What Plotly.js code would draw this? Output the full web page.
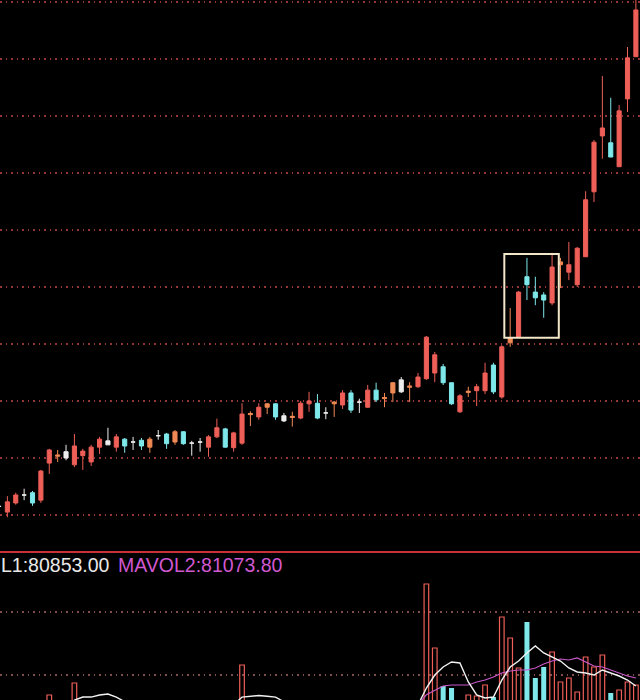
<!DOCTYPE html>
<html>
<head>
<meta charset="utf-8">
<script src="https://cdn.plot.ly/plotly-3.0.1.min.js"></script>
<style>html,body{margin:0;padding:0;background:#000;}#chart{width:640px;height:700px;}</style>
</head>
<body>
<div id="chart"></div>
<script>
// ---- data (index = trading day) ----
const tone = ['w','r','r','w','c','r','r','o','w','r','r','r','r','w','r','c','w','c','o','w','c','o','c','w','w','r','r','c','r','r','o','r','o','c','w','o','r','r','c','w','o','r','c','w','r','c','o','o','w','o','r','r','r','c','c','r','o','r','r','c','r','o','r','c','c','c','r','o','r','r','r','r','r','c','r','r','r'];
const openP = [10.15,10.05,10.21,10.35,10.39,10.26,10.91,11.03,11.11,10.88,11.04,10.93,11.19,11.23,11.19,11.33,11.28,11.31,11.19,11.39,11.42,11.28,11.46,11.26,11.28,11.19,11.37,11.51,11.18,11.26,11.76,11.72,11.89,11.95,11.65,11.71,11.70,11.95,11.96,11.79,11.95,11.93,12.14,11.98,11.89,12.19,12.04,12.14,12.37,12.24,12.25,12.39,12.49,12.60,12.32,11.81,12.15,12.18,12.18,12.63,12.07,13.02,13.12,14.18,13.91,13.86,13.72,14.39,14.26,14.04,14.53,15.67,16.65,16.53,16.11,17.30,18.04];
const closeP = [10.15,10.23,10.35,10.35,10.21,10.77,11.14,11.05,11.00,11.21,11.12,11.19,11.33,11.30,11.37,11.21,11.28,11.21,11.33,11.39,11.25,11.46,11.25,11.26,11.28,11.37,11.53,11.19,11.44,11.77,11.78,11.89,11.95,11.72,11.74,11.73,11.96,12.00,11.70,11.79,11.98,12.14,11.84,11.98,12.19,12.02,12.06,12.32,12.16,12.26,12.42,13.12,12.81,12.32,11.95,12.09,12.17,12.25,12.49,12.16,12.95,13.11,13.91,14.04,13.81,13.77,14.35,14.44,14.39,14.68,15.53,16.54,16.79,16.28,17.09,18.02,18.86];
const highP = [10.21,10.33,10.39,10.46,10.42,10.79,11.16,11.14,11.23,11.42,11.16,11.23,11.37,11.53,11.42,11.35,11.37,11.35,11.37,11.49,11.44,11.49,11.47,11.30,11.35,11.40,11.69,11.53,11.46,11.96,11.82,11.96,11.96,11.96,11.79,11.81,12.00,12.16,12.12,11.89,12.00,12.19,12.19,12.04,12.28,12.32,12.14,12.33,12.42,12.33,12.49,13.14,12.86,12.65,12.32,12.12,12.25,12.30,12.67,12.67,12.98,13.63,13.93,14.51,14.18,13.91,14.60,14.51,14.79,14.70,15.68,16.58,17.70,17.32,17.19,18.21,19.15];
const lowP = [10.09,9.96,10.18,10.26,10.16,10.21,10.72,10.93,10.96,10.84,10.79,10.86,11.07,11.23,11.11,11.09,11.14,11.14,11.09,11.32,11.16,11.23,11.23,11.04,11.11,11.02,11.35,11.18,11.11,11.23,11.56,11.67,11.77,11.67,11.63,11.55,11.68,11.81,11.68,11.68,11.72,11.86,11.79,11.79,11.88,11.98,11.89,11.98,12.14,11.98,12.23,12.37,12.33,12.28,11.93,11.79,12.07,11.91,12.12,12.12,12.04,12.95,13.11,13.77,13.68,13.46,13.68,13.98,14.12,14.00,14.53,15.49,16.25,16.28,16.11,17.07,18.04];
const volume = [40000,42000,38000,36000,39000,45000,54610,40000,38000,69850,44000,42000,40000,38000,41000,37000,35000,36000,38000,34000,37000,36000,38000,35000,34000,40000,42000,44000,40000,92710,45000,47000,44000,42000,40000,41000,46000,45000,44000,40000,42000,46000,44000,40000,45000,43000,40000,44000,42000,41000,46000,195580,114300,66040,63500,45000,54610,53340,67310,52070,153670,127000,88900,147320,76200,90170,109220,71120,76200,58420,102870,90170,105410,57150,60960,71120,67310];
const mavol1 = [42000,42000,42000,42000,42000,42000,42000,42000,42000,48000,52000,52000,54600,55900,52000,46000,42000,42000,42000,42000,42000,42000,42000,42000,42000,42000,42000,42000,42000,52000,53000,54000,53000,52000,46000,42000,42000,42000,42000,42000,42000,42000,42000,42000,42000,42000,42000,42000,42000,42000,42000,63500,80010,90170,96520,95250,71120,54610,50800,52070,73660,90170,97790,107950,116840,107950,102870,97790,88900,83820,82550,80010,86360,82550,78740,73660,66040];
const mavol2 = [42000,42000,42000,42000,42000,42000,42000,42000,42000,42000,42000,42000,42000,42000,42000,42000,42000,42000,42000,42000,42000,42000,42000,42000,42000,42000,42000,42000,42000,42000,42000,42000,42000,42000,42000,42000,42000,42000,42000,42000,42000,42000,42000,42000,42000,42000,42000,42000,42000,42000,42000,55000,60960,66040,67310,67310,67310,71120,73660,77470,82550,85090,86360,86360,88900,93980,97790,100330,99060,101600,96520,91440,90170,86360,82550,78740,76200];
const labelMa1 = 'L1:80853.00';
const labelMa2 = 'MAVOL2:81073.80';

// ---- styles ----
const toneColor = {r:'#ee5f58', c:'#7ee8ea', w:'#eeeeee', o:'#f08a55'};
const idx = openP.map((_, i) => i);
const traces = [];
Object.keys(toneColor).forEach(k => {
  const sel = idx.filter(i => tone[i] === k);
  const col = toneColor[k];
  traces.push({
    type:'candlestick', xaxis:'x', yaxis:'y',
    x: sel, open: sel.map(i=>openP[i]), high: sel.map(i=>highP[i]),
    low: sel.map(i=>lowP[i]), close: sel.map(i=>closeP[i]),
    increasing:{line:{color:col, width:1}, fillcolor:col},
    decreasing:{line:{color:col, width:1}, fillcolor:col},
    whiskerwidth:0, hoverinfo:'skip'
  });
});
const upSel = idx.filter(i => tone[i] !== 'c');
const dnSel = idx.filter(i => tone[i] === 'c');
traces.push({type:'bar', xaxis:'x', yaxis:'y2', x:upSel, y:upSel.map(i=>volume[i]), width:0.55,
  marker:{color:'rgba(0,0,0,0)', line:{color:'#ee5f58', width:1.2}}, hoverinfo:'skip'});
traces.push({type:'bar', xaxis:'x', yaxis:'y2', x:dnSel, y:dnSel.map(i=>volume[i]), width:0.6,
  marker:{color:'#7ee8ea', line:{width:0}}, hoverinfo:'skip'});
traces.push({type:'scatter', mode:'lines', xaxis:'x', yaxis:'y2', x:idx, y:mavol2,
  line:{color:'#c858c8', width:1.2}, hoverinfo:'skip'});
traces.push({type:'scatter', mode:'lines', xaxis:'x', yaxis:'y2', x:idx, y:mavol1,
  line:{color:'#f2f2f2', width:1.4}, hoverinfo:'skip'});

const grid = 'rgba(165,60,60,0.9)';
const layout = {
  width:640, height:700, margin:{l:0,r:0,t:0,b:0},
  paper_bgcolor:'#000', plot_bgcolor:'#000', showlegend:false, barmode:'overlay',
  xaxis:{range:[0.12,76.49], showgrid:false, zeroline:false, showticklabels:false, ticks:'',
    showline:true, linecolor:'#c8303a', linewidth:2, rangeslider:{visible:false}, anchor:'y', fixedrange:true},
  yaxis:{domain:[0.2129,1], range:[9.368,19.035], tick0:0, dtick:1, showgrid:true, gridcolor:grid,
    griddash:'1.5px,4px', gridwidth:1.2, showticklabels:false, zeroline:false, ticks:'', fixedrange:true},
  yaxis2:{domain:[0,0.21], range:[48260,234950], tick0:0, dtick:80000, showgrid:true, gridcolor:'rgba(150,90,90,0.85)',
    griddash:'1.5px,4px', gridwidth:1.2, showticklabels:false, zeroline:false, ticks:'', fixedrange:true},
  shapes:[{type:'rect', xref:'x', yref:'y', x0:60.3, x1:66.8, y0:13.11, y1:14.58,
    line:{color:'#f3e7c9', width:2}}],
  annotations:[
    {xref:'paper', yref:'paper', x:0, y:(700-565)/700, xanchor:'left', yanchor:'middle', xshift:-1,
     text:labelMa1, showarrow:false, font:{family:'Liberation Sans, Arial, sans-serif', size:19.5, color:'#e8e8e8'}},
    {xref:'paper', yref:'paper', x:116/640, y:(700-565)/700, xanchor:'left', yanchor:'middle',
     text:labelMa2, showarrow:false, font:{family:'Liberation Sans, Arial, sans-serif', size:19.5, color:'#d058d0'}}
  ]
};
Plotly.newPlot('chart', traces, layout, {staticPlot:true, displayModeBar:false});
</script>
</body>
</html>
